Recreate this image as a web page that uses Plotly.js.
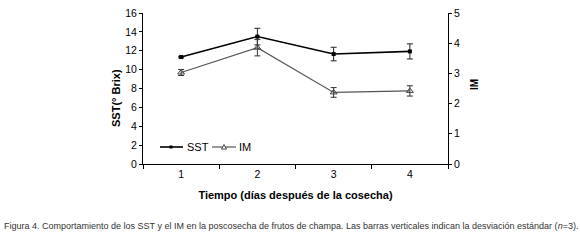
<!DOCTYPE html>
<html><head><meta charset="utf-8">
<script src="https://cdn.plot.ly/plotly-3.0.1.min.js"></script>
<style>html,body{margin:0;padding:0;background:#fff;}#chart{width:580px;height:241px;}</style>
</head><body><div id="chart"></div>
<script>
var days = ['1','2','3','4'];
var sst = [11.33, 13.5, 11.65, 11.93];
var sstErr = [0.08, 0.88, 0.72, 0.8];
var im = [3.03, 3.85, 2.37, 2.42];
var imErr = [0.1, 0.27, 0.16, 0.17];
var yTicksL = [0,2,4,6,8,10,12,14,16];
var yTicksR = [0,1,2,3,4,5];
var seriesNames = ['SST','IM'];

var W = 305, H = 151, L = 143, T = 13;
function px(x){ return (x - L)/W; }
function py(y){ return (T + H - y)/H; }

var font = {family:'Liberation Sans, Arial, sans-serif', size:10.5, color:'#000'};
var traces = [
  {x:days, y:sst, name:seriesNames[0], type:'scatter', mode:'lines+markers',
   line:{color:'#000', width:1.6}, marker:{symbol:'square', size:4, color:'#000'},
   error_y:{type:'data', array:sstErr, visible:true, color:'#222', thickness:1, width:3}},
  {x:days, y:im, name:seriesNames[1], yaxis:'y2', type:'scatter', mode:'lines+markers',
   line:{color:'#555', width:1.2}, marker:{symbol:'triangle-up-open', size:6, color:'#444', line:{width:1}},
   error_y:{type:'data', array:imErr, visible:true, color:'#333', thickness:1, width:3}}
];
var ly = 147;
var shapes = [
  {type:'line', xref:'paper', yref:'paper', x0:px(160), x1:px(183), y0:py(ly), y1:py(ly), line:{color:'#000', width:1.6}},
  {type:'rect', xref:'paper', yref:'paper', x0:px(169.5), x1:px(172.5), y0:py(ly+1.5), y1:py(ly-1.5), fillcolor:'#000', line:{width:0}},
  {type:'line', xref:'paper', yref:'paper', x0:px(212), x1:px(236), y0:py(ly), y1:py(ly), line:{color:'#555', width:1.2}},
  {type:'path', xref:'paper', yref:'paper', path:'M '+px(221.5)+' '+py(ly+2)+' L '+px(226.5)+' '+py(ly+2)+' L '+px(224)+' '+py(ly-2.5)+' Z', fillcolor:'#fff', line:{color:'#444', width:1}}
];
var layout = {
  width:580, height:241, margin:{l:L, r:580-L-W, t:T, b:241-T-H},
  paper_bgcolor:'#fff', plot_bgcolor:'#fff', font:font, showlegend:false, shapes:shapes,
  xaxis:{type:'category', categoryarray:days, range:[-0.5,3.5], tickson:'boundaries', ticks:'outside', ticklen:4, tickcolor:'#000',
    showline:true, linecolor:'#000', linewidth:1, showgrid:false, zeroline:false, mirror:false,
    title:{text:'<b>Tiempo (días después de la cosecha)</b>', font:{family:font.family, size:11}, standoff:12}},
  yaxis:{range:[0,16], tickvals:yTicksL, ticks:'outside', ticklen:3, tickcolor:'#000', showline:true, linecolor:'#000', linewidth:1,
    showgrid:false, zeroline:false},
  yaxis2:{range:[0,5], tickvals:yTicksR, overlaying:'y', side:'right', ticks:'outside', ticklen:3, tickcolor:'#000', showline:true, linecolor:'#000', linewidth:1,
    showgrid:false, zeroline:false},
  annotations:[
    {xref:'paper', yref:'paper', x:px(116), y:py(98), xanchor:'center', yanchor:'middle', textangle:-90, showarrow:false, text:'<b>SST(° Brix)</b>', font:{family:font.family, size:11}},
    {xref:'paper', yref:'paper', x:px(474), y:py(85), xanchor:'center', yanchor:'middle', textangle:-90, showarrow:false, text:'<b>IM</b>', font:{family:font.family, size:10}},
    {xref:'paper', yref:'paper', x:px(185), y:py(ly), xanchor:'left', yanchor:'middle', showarrow:false, text:seriesNames[0], font:{family:font.family, size:11}},
    {xref:'paper', yref:'paper', x:px(237), y:py(ly), xanchor:'left', yanchor:'middle', showarrow:false, text:seriesNames[1], font:{family:font.family, size:11}},
    {xref:'paper', yref:'paper', x:px(2), y:py(226), xanchor:'left', yanchor:'middle', showarrow:false,
    text:'Figura 4. Comportamiento de los SST y el IM en la poscosecha de frutos de champa. Las barras verticales indican la desviación estándar (<i>n</i>=3).',
    font:{family:'Liberation Sans, Arial, sans-serif', size:9, color:'#333'}}]
};
Plotly.newPlot('chart', traces, layout, {displayModeBar:false, staticPlot:true});
</script></body></html>
